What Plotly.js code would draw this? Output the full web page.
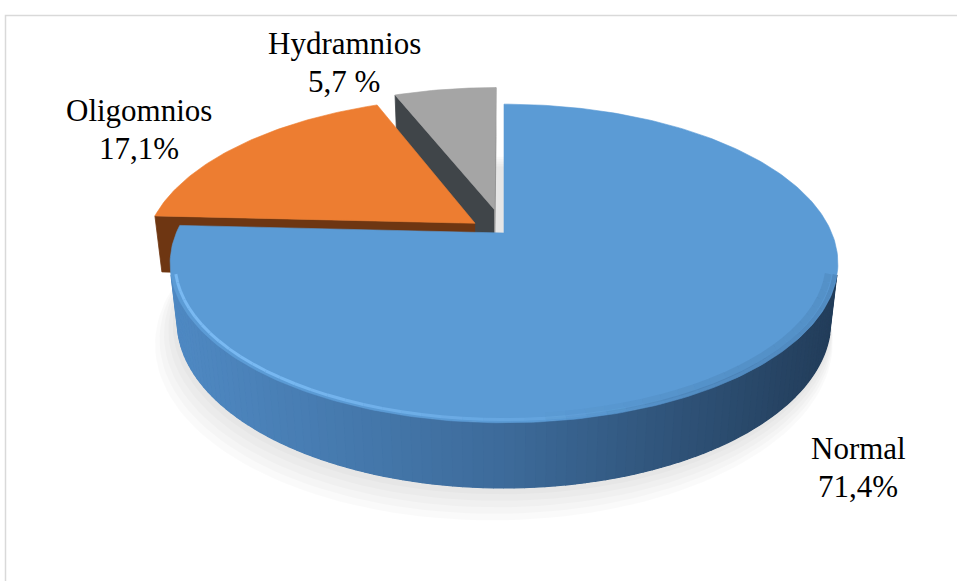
<!DOCTYPE html>
<html>
<head>
<meta charset="utf-8">
<script src="https://cdn.plot.ly/plotly-3.0.1.min.js"></script>
<style>
  html, body { margin: 0; padding: 0; background: #ffffff; }
  #chart { width: 957px; height: 581px; }
</style>
</head>
<body>
<div id="chart"></div>
<script>
// Amniotic fluid volume categories and their shares (%)
const categories = ['Normal', 'Oligomnios', 'Hydramnios'];
const shares = [71.4, 17.1, 5.7];
const shareLabels = ['71,4%', '17,1%', '5,7 %'];

// ---- styling ----
const topColors = ['#5b9bd5', '#ed7d31', '#a5a5a5'];
const wallRamps = [
  ['#4f89c3', '#3d6b9a', '#223c59'],
  ['#7a3c13', '#6b3411', '#5a2b0d'],
  ['#4a4f53', '#404549', '#363a3d']
];
const startFaceColors = ['#3b6a98', '#6e3612', '#404549'];
const endFaceColors = ['#2f5579', '#5c2d0f', '#8e8e8e'];
const pulls = [0, 0.11, 0.16];
const labelAnchors = [[858, 458], [139, 120], [344, 53]];
const labelLineGap = 38;
const labelFont = { family: '"Liberation Serif", "Times New Roman", serif', size: 31, color: '#000000' };

// ---- 3D view of the pie (perspective, tilted disc) ----
const view = { cx: 504, cy: 233, F: 1496, D: 4.61, tilt: Math.asin(0.473), kx: 1.01, depth: 0.203 };
const sinT = Math.sin(view.tilt), cosT = Math.cos(view.tilt);

function project(X, Z, h) {
  const yc = h * cosT - Z * sinT;
  const zc = view.D - (Z * cosT + h * sinT);
  return [view.cx + view.kx * view.F * X / zc, view.cy - view.F * yc / zc];
}
function rim(ox, oz, deg, h, r) {
  const p = deg * Math.PI / 180;
  const rr = (r === undefined) ? 1 : r;
  return project(ox + rr * Math.sin(p), oz - rr * Math.cos(p), h);
}
// is a face with normal (nx, nz) turned towards the camera?
function facesCamera(nx, nz, px, pz) {
  return nx * (0 - px) + nz * (view.D * cosT - pz) > 1e-6;
}

function hexToRgb(h) { const n = parseInt(h.slice(1), 16); return [(n >> 16) & 255, (n >> 8) & 255, n & 255]; }
function mix(c1, c2, t) {
  const a = hexToRgb(c1), b = hexToRgb(c2);
  return 'rgb(' + a.map((v, i) => Math.round(v + (b[i] - v) * t)).join(',') + ')';
}
function ramp(stops, t) {
  t = Math.min(1, Math.max(0, t));
  const n = stops.length - 1;
  const k = Math.min(n - 1, Math.floor(t * n));
  return mix(stops[k], stops[k + 1], t * n - k);
}

const traces = [];
function poly(pts, color, lineW) {
  traces.push({
    type: 'scatter', mode: 'lines',
    x: pts.map(p => p[0]), y: pts.map(p => p[1]),
    fill: 'toself', fillcolor: color,
    line: { width: lineW === undefined ? 0.8 : lineW, color: color },
    hoverinfo: 'skip', showlegend: false
  });
}
function stroke(pts, color, width, opacity) {
  traces.push({
    type: 'scatter', mode: 'lines',
    x: pts.map(p => p[0]), y: pts.map(p => p[1]),
    line: { width: width, color: color, shape: 'linear' }, opacity: opacity,
    hoverinfo: 'skip', showlegend: false
  });
}

// soft shadow under the disc, stronger towards the lower left
for (let k = 5; k >= 1; k--) {
  const pts = [];
  for (let d = 0; d <= 360; d += 2) pts.push(rim(-0.006 * k, 0.01 * k, d, -view.depth - 0.008 * k, 1 + 0.006 * k));
  poly(pts, 'rgba(0,0,0,0.018)', 0);
}

// slice geometry from the shares
const total = shares.reduce((s, v) => s + v, 0);
const slices = [];
let acc = 0;
shares.forEach((v, i) => {
  const a = acc, b = acc + 360 * v / total;
  acc = b;
  const mid = (a + b) / 2 * Math.PI / 180;
  slices.push({ i, a, b, ox: pulls[i] * Math.sin(mid), oz: -pulls[i] * Math.cos(mid), midZ: -Math.cos(mid) });
});
// far slices first
slices.sort((p, q) => p.midZ - q.midZ);

const xLeft = view.cx - 335, xSpan = 670;

slices.forEach(s => {
  const { i, a, b, ox, oz } = s;
  const H = view.depth;
  const c0 = project(ox, oz, 0), c1 = project(ox, oz, -H);
  const ar = a * Math.PI / 180, br = b * Math.PI / 180;

  // radial faces
  if (facesCamera(-Math.cos(ar), -Math.sin(ar), ox, oz)) {
    poly([c0, rim(ox, oz, a, 0), rim(ox, oz, a, -H), c1], startFaceColors[i]);
  }
  if (facesCamera(Math.cos(br), Math.sin(br), ox, oz)) {
    poly([c0, rim(ox, oz, b, 0), rim(ox, oz, b, -H), c1], endFaceColors[i]);
  }

  // outer wall: visible part as one base piece, then shaded strips on top
  const step = 1.5;
  const strips = [];
  for (let d = a; d < b - 1e-9; d += step) {
    const e = Math.min(b, d + step);
    const m = (d + e) / 2 * Math.PI / 180;
    const nx = Math.sin(m), nz = -Math.cos(m);
    if (!facesCamera(nx, nz, ox + nx, oz + nz)) continue;
    strips.push([d, e]);
  }
  if (strips.length) {
    const d0 = strips[0][0], d1 = strips[strips.length - 1][1];
    const base = [];
    for (let d = d0; d <= d1 + 1e-9; d += 1) base.push(rim(ox, oz, Math.min(d, d1), 0));
    base.push(rim(ox, oz, d1, 0));
    for (let d = d1; d >= d0 - 1e-9; d -= 1) base.push(rim(ox, oz, Math.max(d, d0), -H));
    base.push(rim(ox, oz, d0, -H));
    poly(base, wallRamps[i][1], 0);
    strips.forEach(([d, e]) => {
      const p1 = rim(ox, oz, d, 0), p2 = rim(ox, oz, e, 0), p3 = rim(ox, oz, e, -H), p4 = rim(ox, oz, d, -H);
      const t = ((p1[0] + p2[0]) / 2 - xLeft) / xSpan;
      poly([p1, p2, p3, p4], ramp(wallRamps[i], t), 1.2);
    });
  }

  // top face
  const top = [c0];
  for (let d = a; d <= b + 1e-9; d += 1) top.push(rim(ox, oz, Math.min(d, b), 0));
  top.push(rim(ox, oz, b, 0));
  top.push(c0);
  poly(top, topColors[i], 0.6);

  // bevel: light rim on the lit side, soft dark rim on the shaded side
  if (i === 0) {
    for (let d = a; d < b - 1e-9; d += 3) {
      const e = Math.min(b, d + 3);
      const m = (d + e) / 2 * Math.PI / 180;
      const nx = Math.sin(m), nz = -Math.cos(m);
      if (!facesCamera(nx, nz, ox + nx, oz + nz)) continue;
      const p1 = rim(ox, oz, d, 0, 0.986), p2 = rim(ox, oz, e, 0, 0.986);
      const t = ((p1[0] + p2[0]) / 2 - xLeft) / xSpan;
      const lightOp = Math.max(0, Math.min(1, 1.2 - 1.6 * t));
      if (lightOp > 0.02) stroke([p1, p2], '#79b9f2', 3, lightOp);
      const darkOp = Math.max(0, Math.min(0.22, (t - 0.55) * 0.8));
      if (darkOp > 0.01) {
        stroke([rim(ox, oz, d, 0, 0.975), rim(ox, oz, e, 0, 0.975)], '#2d527a', 7, darkOp * 0.6);
        stroke([rim(ox, oz, d, 0, 0.993), rim(ox, oz, e, 0, 0.993)], '#2d527a', 4, darkOp);
      }
    }
  }
});

// labels: category name and share on two lines
const annotations = [];
categories.forEach((name, i) => {
  const [lx, ly] = labelAnchors[i];
  annotations.push({ x: lx, y: ly - 10, xref: 'x', yref: 'y', text: name, showarrow: false,
    xanchor: 'center', yanchor: 'middle', font: labelFont });
  annotations.push({ x: lx, y: ly - 10 + labelLineGap, xref: 'x', yref: 'y', text: shareLabels[i], showarrow: false,
    xanchor: 'center', yanchor: 'middle', font: labelFont });
});

const layout = {
  width: 957, height: 581,
  margin: { l: 0, r: 0, t: 0, b: 0 },
  paper_bgcolor: '#ffffff', plot_bgcolor: '#ffffff',
  showlegend: false, hovermode: false,
  xaxis: { range: [0, 957], visible: false, fixedrange: true },
  yaxis: { range: [581, 0], visible: false, fixedrange: true },
  annotations: annotations,
  shapes: [{ type: 'rect', xref: 'x', yref: 'y', x0: 5.5, y0: 15.5, x1: 970, y1: 600,
    line: { color: '#d9d9d9', width: 1.5 }, fillcolor: 'rgba(0,0,0,0)', layer: 'below' }]
};

Plotly.newPlot('chart', traces, layout, { staticPlot: true, displayModeBar: false });
</script>
</body>
</html>
